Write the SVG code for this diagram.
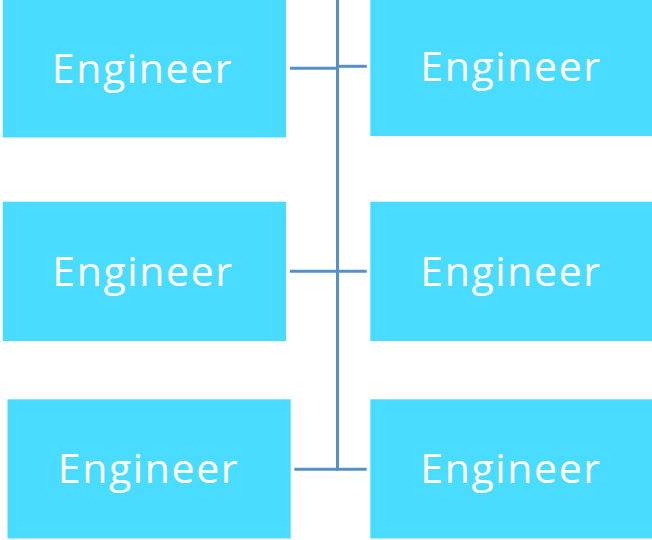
<svg xmlns="http://www.w3.org/2000/svg" width="652" height="540" viewBox="0 0 652 540">
  <style>
    .box { fill: #4adcff; }
    .label { fill: #ffffff; font-family: "Open Sans", "Noto Sans", "DejaVu Sans", sans-serif; font-size: 41px; letter-spacing: 1.6px; text-anchor: middle; }
    .wire { stroke: #5590c8; stroke-width: 3; fill: none; }
  </style>
  <rect width="652" height="540" fill="#ffffff"/>

  <!-- connectors -->
  <g id="connectors">
    <line class="wire" x1="337.5" y1="0" x2="337.5" y2="470.8"/>
    <line class="wire" x1="290" y1="68.3" x2="338" y2="68.3"/>
    <line class="wire" x1="338" y1="66.3" x2="366.7" y2="66.3"/>
    <line class="wire" x1="290" y1="271.3" x2="366.7" y2="271.3"/>
    <line class="wire" x1="294.3" y1="469.3" x2="366.7" y2="469.3"/>
  </g>

  <!-- left column -->
  <g id="node-left-1">
    <rect class="box" x="2.7" y="-1.5" width="283.3" height="139"/>
    <text class="label" x="142.5" y="82.7">Engineer</text>
  </g>
  <g id="node-left-2">
    <rect class="box" x="2.7" y="201.7" width="283.3" height="139.3"/>
    <text class="label" x="143" y="286">Engineer</text>
  </g>
  <g id="node-left-3">
    <rect class="box" x="7.5" y="399.3" width="283.2" height="139.2"/>
    <text class="label" x="148.5" y="483.3">Engineer</text>
  </g>

  <!-- right column -->
  <g id="node-right-1">
    <rect class="box" x="370.3" y="-3.2" width="282" height="139.2"/>
    <text class="label" x="511" y="81">Engineer</text>
  </g>
  <g id="node-right-2">
    <rect class="box" x="370.3" y="201.7" width="282" height="139.3"/>
    <text class="label" x="511" y="286">Engineer</text>
  </g>
  <g id="node-right-3">
    <rect class="box" x="370.3" y="399.3" width="282" height="139.2"/>
    <text class="label" x="511" y="483.3">Engineer</text>
  </g>
</svg>
